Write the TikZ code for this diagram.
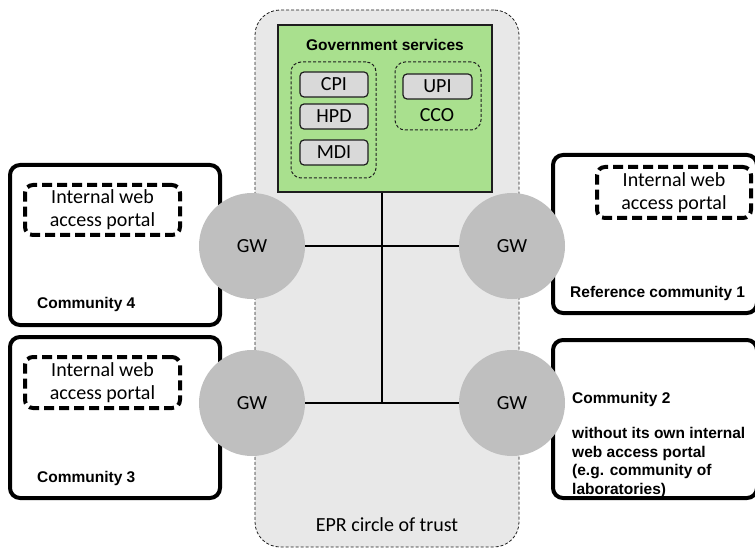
\documentclass[tikz,border=0pt]{standalone}
\usepackage{fontspec}
\setmainfont{Carlito}
\newfontfamily\arialf{Liberation Sans}
\definecolor{eprfill}{RGB}{232,232,232}
\definecolor{govgreen}{RGB}{169,224,142}
\definecolor{gwgray}{RGB}{191,191,191}
\definecolor{boxgray}{RGB}{217,217,217}
\definecolor{darkline}{RGB}{30,30,30}
\begin{document}
\begin{tikzpicture}[x=1pt,y=-1pt,
  cal/.style={font=\fontsize{20pt}{23pt}\selectfont},
  bold/.style={font=\arialf\bfseries\fontsize{15.5pt}{18.5pt}\selectfont},
  eprbox/.style={draw=darkline, line width=0.8pt, dash pattern=on 3pt off 2pt, rounded corners=25pt, fill=eprfill, inner sep=0pt},
  govbox/.style={draw=darkline, line width=1.5pt, fill=govgreen, inner sep=0pt},
  grpbox/.style={draw=darkline, line width=1pt, dash pattern=on 3pt off 2pt, rounded corners=10pt, inner sep=0pt},
  svcbox/.style={draw=darkline, line width=1.2pt, rounded corners=4pt, fill=boxgray, inner sep=0pt, minimum width=68pt, minimum height=25pt, cal},
  commbox/.style={draw=black, line width=4pt, rounded corners=10pt, inner sep=0pt},
  portal/.style={draw=black, line width=4pt, dash pattern=on 10pt off 5pt, rounded corners=8pt, inner sep=0pt},
  gwnode/.style={circle, fill=gwgray, minimum size=106pt, inner sep=0pt, cal},
  link/.style={draw=black, line width=1.3pt}
]
\useasboundingbox (0,0) rectangle (755,548);
\clip (0,0) rectangle (755,548);
\fill[white] (0,0) rectangle (755,548);

% EPR circle of trust container
\node[eprbox, minimum width=264pt, minimum height=537pt] (epr) at (387,278.5) {};
\node[cal, anchor=center] (eprlabel) at (387,525) {EPR circle of trust};

% Government services
\node[govbox, minimum width=214pt, minimum height=167pt] (gov) at (385,108.5) {};
\node[bold, anchor=center] (govlabel) at (385,45) {Government services};
\node[grpbox, minimum width=85pt, minimum height=116pt] (grpa) at (333.5,120) {};
\node[grpbox, minimum width=86pt, minimum height=68pt] (grpb) at (438,96) {};
\node[svcbox] (cpi) at (334,84.5) {CPI};
\node[svcbox] (hpd) at (334,116.5) {HPD};
\node[svcbox] (mdi) at (334,152.5) {MDI};
\node[svcbox, minimum width=69pt] (upi) at (437.5,86.5) {UPI};
\node[cal, anchor=center] (cco) at (437,115) {CCO};

% connectors
\coordinate (j1) at (382,246);
\coordinate (j2) at (382,403);

% communities
\node[commbox, minimum width=210pt, minimum height=160pt] (c4) at (115,245) {};
\node[commbox, minimum width=210pt, minimum height=161pt] (c3) at (115,417.5) {};
\node[commbox, minimum width=204pt, minimum height=158pt] (c1) at (655,234) {};
\node[commbox, minimum width=204pt, minimum height=158pt] (c2) at (655,419) {};

\node[portal, minimum width=155pt, minimum height=50pt] (p4) at (102.5,210) {};
\node[portal, minimum width=155pt, minimum height=51pt] (p3) at (102.5,382.5) {};
\node[portal, minimum width=154pt, minimum height=51pt] (p1) at (674,192.5) {};
\node[cal, align=center] (p4t) at (p4.center) {Internal web\\access portal};
\node[cal, align=center] (p3t) at (p3.center) {Internal web\\access portal};
\node[cal, align=center] (p1t) at (p1.center) {Internal web\\access portal};

\node[bold, anchor=base west, inner sep=0pt] (c4t) at (37,308.5) {Community 4};
\node[bold, anchor=base west, inner sep=0pt] (c3t) at (37,482.6) {Community 3};
\node[bold, anchor=base west, inner sep=0pt] (c1t) at (570,297.6) {Reference community 1};
\node[bold, anchor=north west, inner sep=0pt, align=left] (c2t) at (572,392.5)
  {Community 2\\[16.5pt]without its own internal\\web access portal\\(e.g. community of\\laboratories)};

% gateways
\node[gwnode] (gw1) at (252,246) {GW};
\node[gwnode] (gw2) at (512,246) {GW};
\node[gwnode] (gw3) at (252,403) {GW};
\node[gwnode] (gw4) at (512,403) {GW};

\draw[link] (gw1) -- (gw2);
\draw[link] (gw3) -- (gw4);
\draw[link] (gov.south -| j1) -- (j1) -- (j2);
\end{tikzpicture}
\end{document}
